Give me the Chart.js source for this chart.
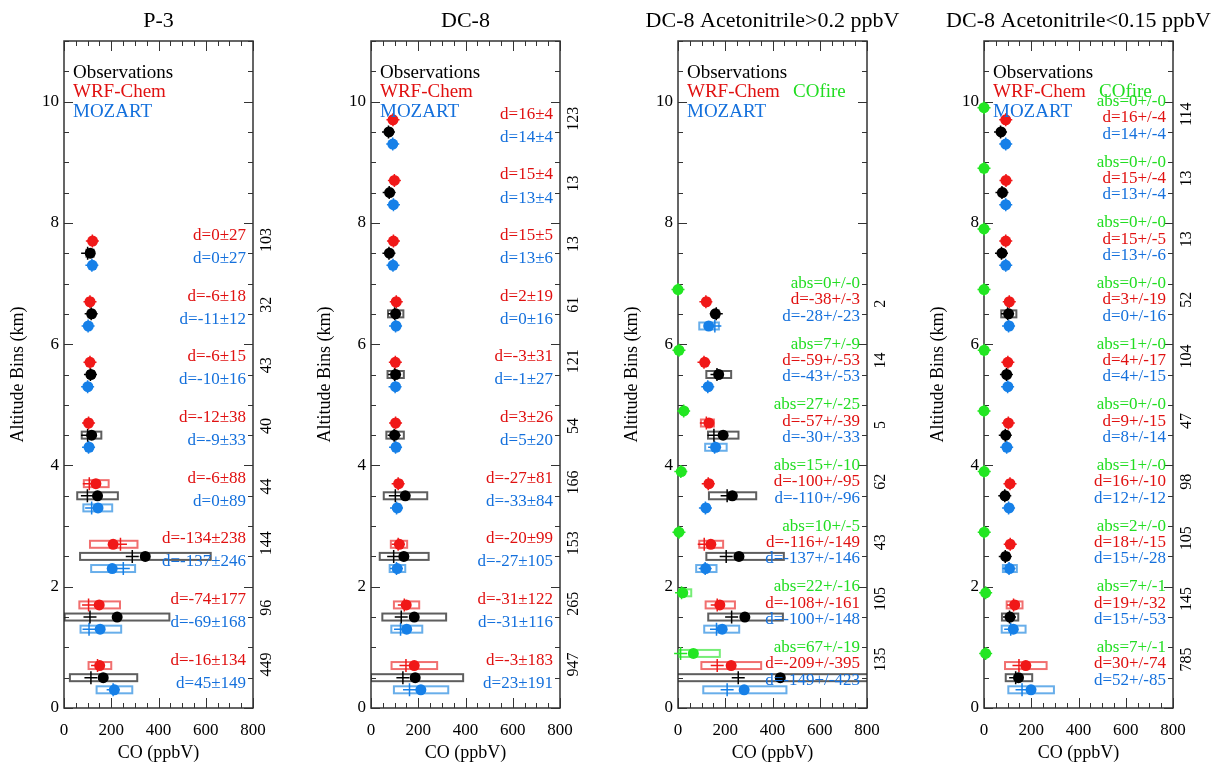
<!DOCTYPE html>
<html>
<head>
<meta charset="utf-8">
<script src="https://cdn.jsdelivr.net/npm/chart.js@4.4.0/dist/chart.umd.min.js"></script>
<style>
body { margin:0; background:#fff; width:1217px; height:764px; overflow:hidden; position:relative; }
canvas { position:absolute; top:0; }
</style>
</head>
<body>
<canvas id="c1" width="295" height="764" style="left:2px"></canvas>
<canvas id="c2" width="295" height="764" style="left:309px"></canvas>
<canvas id="c3" width="295" height="764" style="left:616px"></canvas>
<canvas id="c4" width="295" height="764" style="left:922px"></canvas>
<script>
// altitude bin centres (km), bottom to top
var p3Alt = [0.5, 1.5, 2.5, 3.5, 4.5, 5.5, 6.5, 7.5];
var dc8Alt = [0.5, 1.5, 2.5, 3.5, 4.5, 5.5, 6.5, 7.5, 8.5, 9.5];
var hiAlt = [0.5, 1.5, 2.5, 3.5, 4.5, 5.5, 6.5];
var loAlt = [0.5, 1.5, 2.5, 3.5, 4.5, 5.5, 6.5, 7.5, 8.5, 9.5];

// P-3
var p3ObsMean = [166, 225, 344, 142, 117, 114, 117, 111];
var p3ObsMed = [114, 110, 289, 99, 100, 112, 115, 100];
var p3ObsLo = [25, 3, 68, 56, 75, 102, 104, 95];
var p3ObsHi = [310, 446, 621, 228, 158, 126, 128, 125];
var p3WrfMean = [151, 149, 208, 135, 104, 110, 110, 121];
var p3WrfMed = [142, 104, 239, 107, 104, 110, 110, 120];
var p3WrfLo = [104, 65, 110, 84, 95, 100, 100, 110];
var p3WrfHi = [200, 237, 311, 189, 115, 120, 120, 130];
var p3MozMean = [213, 153, 204, 144, 106, 101, 103, 120];
var p3MozMed = [208, 106, 251, 117, 104, 100, 102, 118];
var p3MozLo = [138, 70, 115, 82, 95, 92, 95, 110];
var p3MozHi = [289, 242, 301, 204, 115, 110, 110, 128];
var p3WrfD = ['d=-16±134', 'd=-74±177', 'd=-134±238', 'd=-6±88', 'd=-12±38', 'd=-6±15', 'd=-6±18', 'd=0±27'];
var p3MozD = ['d=45±149', 'd=-69±168', 'd=-137±246', 'd=0±89', 'd=-9±33', 'd=-10±16', 'd=-11±12', 'd=0±27'];
var p3N = [449, 96, 144, 44, 40, 43, 32, 103];

// DC-8
var dc8ObsMean = [187, 183, 139, 145, 100, 104, 104, 78, 79, 76];
var dc8ObsMed = [135, 128, 96, 103, 98, 100, 100, 76, 77, 74];
var dc8ObsLo = [0, 48, 37, 54, 65, 70, 72, 70, 72, 70];
var dc8ObsHi = [390, 318, 244, 238, 139, 139, 137, 86, 86, 84];
var dc8WrfMean = [183, 149, 120, 117, 104, 103, 107, 95, 99, 93];
var dc8WrfMed = [148, 141, 115, 115, 104, 103, 107, 95, 99, 93];
var dc8WrfLo = [87, 97, 84, 105, 95, 95, 98, 88, 92, 86];
var dc8WrfHi = [280, 204, 153, 128, 113, 112, 116, 102, 106, 100];
var dc8MozMean = [211, 151, 111, 111, 106, 104, 106, 93, 95, 92];
var dc8MozMed = [163, 125, 108, 108, 104, 102, 104, 93, 95, 92];
var dc8MozLo = [97, 86, 79, 100, 96, 95, 97, 86, 88, 85];
var dc8MozHi = [327, 217, 145, 122, 115, 113, 115, 100, 102, 99];
var dc8WrfD = ['d=-3±183', 'd=-31±122', 'd=-20±99', 'd=-27±81', 'd=3±26', 'd=-3±31', 'd=2±19', 'd=15±5', 'd=15±4', 'd=16±4'];
var dc8MozD = ['d=23±191', 'd=-31±116', 'd=-27±105', 'd=-33±84', 'd=5±20', 'd=-1±27', 'd=0±16', 'd=13±6', 'd=13±4', 'd=14±4'];
var dc8N = [947, 265, 153, 166, 54, 121, 61, 13, 13, 123];

// DC-8 acetonitrile > 0.2 ppbV
var hiObsMean = [433, 283, 258, 230, 191, 172, 158];
var hiObsMed = [255, 227, 204, 208, 152, 165, 162];
var hiObsLo = [-20, 128, 120, 131, 127, 120, 150];
var hiObsHi = [1000, 444, 448, 331, 256, 225, 172];
var hiWrfMean = [225, 177, 139, 131, 131, 113, 120];
var hiWrfMed = [166, 166, 111, 128, 120, 110, 118];
var hiWrfLo = [99, 117, 90, 120, 97, 102, 110];
var hiWrfHi = [352, 241, 191, 140, 152, 122, 130];
var hiMozMean = [280, 187, 117, 118, 159, 128, 130];
var hiMozMed = [208, 163, 115, 116, 155, 126, 156];
var hiMozLo = [107, 111, 77, 108, 115, 118, 90];
var hiMozHi = [459, 259, 163, 128, 206, 138, 173];
var hiFireMean = [65, 20, 4, 14, 25, 4, 0];
var hiFireMed = [11, 15, 4, 12, 24, 4, 0];
var hiFireLo = [3, 3, 2, 8, 18, 2, 0];
var hiFireHi = [177, 56, 8, 20, 30, 8, 0];
var hiAbs = ['abs=67+/-19', 'abs=22+/-16', 'abs=10+/-5', 'abs=15+/-10', 'abs=27+/-25', 'abs=7+/-9', 'abs=0+/-0'];
var hiWrfD = ['d=-209+/-395', 'd=-108+/-161', 'd=-116+/-149', 'd=-100+/-95', 'd=-57+/-39', 'd=-59+/-53', 'd=-38+/-3'];
var hiMozD = ['d=-149+/-423', 'd=-100+/-148', 'd=-137+/-146', 'd=-110+/-96', 'd=-30+/-33', 'd=-43+/-53', 'd=-28+/-23'];
var hiN = [135, 105, 43, 62, 5, 14, 2];

// DC-8 acetonitrile < 0.15 ppbV
var loObsMean = [146, 110, 92, 89, 92, 96, 104, 76, 78, 72];
var loObsMed = [134, 108, 90, 88, 90, 95, 100, 74, 76, 70];
var loObsLo = [92, 76, 80, 80, 82, 86, 73, 68, 70, 66];
var loObsHi = [204, 145, 104, 100, 102, 106, 137, 84, 86, 80];
var loWrfMean = [177, 130, 111, 110, 103, 101, 107, 92, 93, 92];
var loWrfMed = [148, 125, 111, 110, 103, 101, 107, 92, 93, 92];
var loWrfLo = [89, 96, 100, 100, 95, 93, 99, 85, 86, 85];
var loWrfHi = [265, 163, 122, 120, 111, 109, 115, 99, 100, 99];
var loMozMean = [199, 124, 108, 106, 97, 101, 106, 92, 92, 92];
var loMozMed = [161, 113, 106, 104, 96, 100, 104, 92, 92, 92];
var loMozLo = [103, 75, 80, 96, 88, 92, 96, 85, 85, 85];
var loMozHi = [296, 176, 139, 116, 106, 110, 116, 99, 99, 99];
var loFireMean = [7, 7, 1, 1, 0, 1, 0, 0, 0, 0];
var loFireMed = [7, 7, 1, 1, 0, 1, 0, 0, 0, 0];
var loFireLo = [5, 5, 0, 0, 0, 0, 0, 0, 0, 0];
var loFireHi = [9, 9, 2, 2, 0, 2, 0, 0, 0, 0];
var loAbs = ['abs=7+/-1', 'abs=7+/-1', 'abs=2+/-0', 'abs=1+/-0', 'abs=0+/-0', 'abs=1+/-0', 'abs=0+/-0', 'abs=0+/-0', 'abs=0+/-0', 'abs=0+/-0'];
var loWrfD = ['d=30+/-74', 'd=19+/-32', 'd=18+/-15', 'd=16+/-10', 'd=9+/-15', 'd=4+/-17', 'd=3+/-19', 'd=15+/-5', 'd=15+/-4', 'd=16+/-4'];
var loMozD = ['d=52+/-85', 'd=15+/-53', 'd=15+/-28', 'd=12+/-12', 'd=8+/-14', 'd=4+/-15', 'd=0+/-16', 'd=13+/-6', 'd=13+/-4', 'd=14+/-4'];
var loN = [785, 145, 105, 98, 47, 104, 52, 13, 13, 114];

var xTicks = [0, 200, 400, 600, 800];
var yTicks = [0, 2, 4, 6, 8, 10];

var serif = '"Liberation Serif", "DejaVu Serif", serif';
var cBlack = '#000000', cRed = '#f01818', cBlue = '#1680e8', cGreen = '#22e622';
var tRed = '#e01010', tBlue = '#1470dc', tGreen = '#22dd22';
var boxBlack = 'rgba(40,40,40,0.75)', boxRed = 'rgba(235,50,50,0.7)', boxBlue = 'rgba(40,140,225,0.7)', boxGreen = 'rgba(60,230,60,0.7)';

var panels = [
  {id: 'c1', title: 'P-3', alt: p3Alt, fire: null,
   obs: [p3ObsMean, p3ObsMed, p3ObsLo, p3ObsHi], wrf: [p3WrfMean, p3WrfMed, p3WrfLo, p3WrfHi], moz: [p3MozMean, p3MozMed, p3MozLo, p3MozHi],
   abs: null, wrfD: p3WrfD, mozD: p3MozD, n: p3N},
  {id: 'c2', title: 'DC-8', alt: dc8Alt, fire: null,
   obs: [dc8ObsMean, dc8ObsMed, dc8ObsLo, dc8ObsHi], wrf: [dc8WrfMean, dc8WrfMed, dc8WrfLo, dc8WrfHi], moz: [dc8MozMean, dc8MozMed, dc8MozLo, dc8MozHi],
   abs: null, wrfD: dc8WrfD, mozD: dc8MozD, n: dc8N},
  {id: 'c3', title: 'DC-8 Acetonitrile>0.2 ppbV', alt: hiAlt, fire: [hiFireMean, hiFireMed, hiFireLo, hiFireHi],
   obs: [hiObsMean, hiObsMed, hiObsLo, hiObsHi], wrf: [hiWrfMean, hiWrfMed, hiWrfLo, hiWrfHi], moz: [hiMozMean, hiMozMed, hiMozLo, hiMozHi],
   abs: hiAbs, wrfD: hiWrfD, mozD: hiMozD, n: hiN},
  {id: 'c4', title: 'DC-8 Acetonitrile<0.15 ppbV', alt: loAlt, fire: [loFireMean, loFireMed, loFireLo, loFireHi],
   obs: [loObsMean, loObsMed, loObsLo, loObsHi], wrf: [loWrfMean, loWrfMed, loWrfLo, loWrfHi], moz: [loMozMean, loMozMed, loMozLo, loMozHi],
   abs: loAbs, wrfD: loWrfD, mozD: loMozD, n: loN}
];

function pts(vals, alt, off) {
  return vals.map(function(v, i) { return {x: v, y: alt[i] + off}; });
}

function makeChart(p) {
  var series = [
    {s: p.wrf, off: 0.2, col: cRed, box: boxRed},
    {s: p.obs, off: 0, col: cBlack, box: boxBlack},
    {s: p.moz, off: -0.2, col: cBlue, box: boxBlue}
  ];
  if (p.fire) series.push({s: p.fire, off: 0.4, col: cGreen, box: boxGreen});

  var datasets = [];
  series.forEach(function(se) {
    datasets.push({data: pts(se.s[0], p.alt, se.off), pointStyle: 'circle', pointRadius: 5.5,
      backgroundColor: se.col, borderWidth: 0, clip: false});
  });
  series.forEach(function(se) {
    datasets.push({data: pts(se.s[1], p.alt, se.off), pointStyle: 'cross', pointRadius: 6.5,
      borderColor: se.col, backgroundColor: se.col, borderWidth: 1.5, clip: false});
  });

  var three = !!p.abs;

  var decor = {
    id: 'decor',
    beforeDatasetsDraw: function(chart) {
      var ctx = chart.ctx, a = chart.chartArea, xs = chart.scales.x, ys = chart.scales.y;
      ctx.save();
      ctx.strokeStyle = '#333';
      ctx.lineWidth = 1;
      ctx.beginPath();
      for (var v = 0; v <= 800; v += 50) {
        var px = Math.round(xs.getPixelForValue(v)) + 0.5;
        var len = v % 200 == 0 ? 10 : 5;
        ctx.moveTo(px, a.bottom); ctx.lineTo(px, a.bottom - len);
        ctx.moveTo(px, a.top); ctx.lineTo(px, a.top + len);
      }
      for (var h = 0; h <= 11; h += 0.5) {
        var py = Math.round(ys.getPixelForValue(h)) + 0.5;
        var l2 = h % 2 == 0 ? 9 : 5;
        ctx.moveTo(a.left, py); ctx.lineTo(a.left + l2, py);
        ctx.moveTo(a.right, py); ctx.lineTo(a.right - l2, py);
      }
      ctx.stroke();
      ctx.lineWidth = 1.5;
      ctx.strokeRect(a.left, a.top, a.right - a.left, a.bottom - a.top);

      // title, centred over the plot
      ctx.font = '22px ' + serif;
      ctx.fillStyle = '#000';
      ctx.textAlign = 'center';
      ctx.textBaseline = 'middle';
      ctx.fillText(p.title, (a.left + a.right) / 2, 21);

      // interquartile boxes
      ctx.beginPath();
      ctx.rect(a.left, a.top, a.right - a.left, a.bottom - a.top);
      ctx.clip();
      ctx.lineWidth = 2;
      series.forEach(function(se) {
        ctx.strokeStyle = se.box;
        p.alt.forEach(function(al, i) {
          var x1 = xs.getPixelForValue(se.s[2][i]), x2 = xs.getPixelForValue(se.s[3][i]);
          var yc = ys.getPixelForValue(al + se.off);
          ctx.strokeRect(x1, yc - 3.5, x2 - x1, 7);
        });
      });
      ctx.restore();
    },
    afterDatasetsDraw: function(chart) {
      var ctx = chart.ctx, a = chart.chartArea, ys = chart.scales.y;
      ctx.save();
      ctx.font = '19px ' + serif;
      ctx.textAlign = 'left';
      ctx.textBaseline = 'middle';
      ctx.fillStyle = cBlack; ctx.fillText('Observations', a.left + 9, a.top + 32);
      ctx.fillStyle = tRed; ctx.fillText('WRF-Chem', a.left + 9, a.top + 51.5);
      ctx.fillStyle = tBlue; ctx.fillText('MOZART', a.left + 9, a.top + 71);
      if (three) { ctx.fillStyle = tGreen; ctx.fillText('COfire', a.left + 115, a.top + 51.5); }

      ctx.font = '17px ' + serif;
      ctx.textAlign = 'right';
      var xr = a.right - 7;
      p.alt.forEach(function(al, i) {
        if (three) {
          ctx.fillStyle = tGreen; ctx.fillText(p.abs[i], xr, ys.getPixelForValue(al + 0.5));
          ctx.fillStyle = tRed; ctx.fillText(p.wrfD[i], xr, ys.getPixelForValue(al + 0.23));
          ctx.fillStyle = tBlue; ctx.fillText(p.mozD[i], xr, ys.getPixelForValue(al - 0.04));
        } else {
          ctx.fillStyle = tRed; ctx.fillText(p.wrfD[i], xr, ys.getPixelForValue(al + 0.29));
          ctx.fillStyle = tBlue; ctx.fillText(p.mozD[i], xr, ys.getPixelForValue(al - 0.09));
        }
      });

      ctx.font = '16px ' + serif;
      ctx.fillStyle = cBlack;
      ctx.textAlign = 'left';
      p.alt.forEach(function(al, i) {
        ctx.save();
        ctx.translate(a.right + 14, ys.getPixelForValue(al + (three ? 0.1 : 0.02)));
        ctx.rotate(-Math.PI / 2);
        ctx.fillText(String(p.n[i]), 0, 0);
        ctx.restore();
      });
      ctx.restore();
    }
  };

  return new Chart(document.getElementById(p.id), {
    type: 'scatter',
    data: {datasets: datasets},
    options: {
      responsive: false,
      animation: false,
      events: [],
      layout: {padding: {left: 0, right: 44, top: 41, bottom: 0}},
      plugins: {
        legend: {display: false},
        tooltip: {enabled: false},
        title: {display: false}
      },
      scales: {
        x: {
          type: 'linear', min: 0, max: 800,
          grid: {display: false, drawTicks: false},
          border: {display: false},
          afterBuildTicks: function(sc) { sc.ticks = xTicks.map(function(v) { return {value: v}; }); },
          afterFit: function(sc) { sc.height = 56; },
          ticks: {color: '#000', font: {family: serif, size: 17}, padding: 12, maxRotation: 0, autoSkip: false},
          title: {display: true, text: 'CO (ppbV)', color: '#000', font: {family: serif, size: 18}, padding: {top: 0, bottom: 0}}
        },
        y: {
          type: 'linear', min: 0, max: 11,
          grid: {display: false, drawTicks: false},
          border: {display: false},
          afterBuildTicks: function(sc) { sc.ticks = yTicks.map(function(v) { return {value: v}; }); },
          afterFit: function(sc) { sc.width = 62; },
          ticks: {color: '#000', font: {family: serif, size: 17}, padding: 5},
          title: {display: true, text: 'Altitude Bins (km)', color: '#000', font: {family: serif, size: 18}, padding: {top: 5, bottom: 0}}
        }
      }
    },
    plugins: [decor]
  });
}

panels.forEach(makeChart);
</script>
</body>
</html>
